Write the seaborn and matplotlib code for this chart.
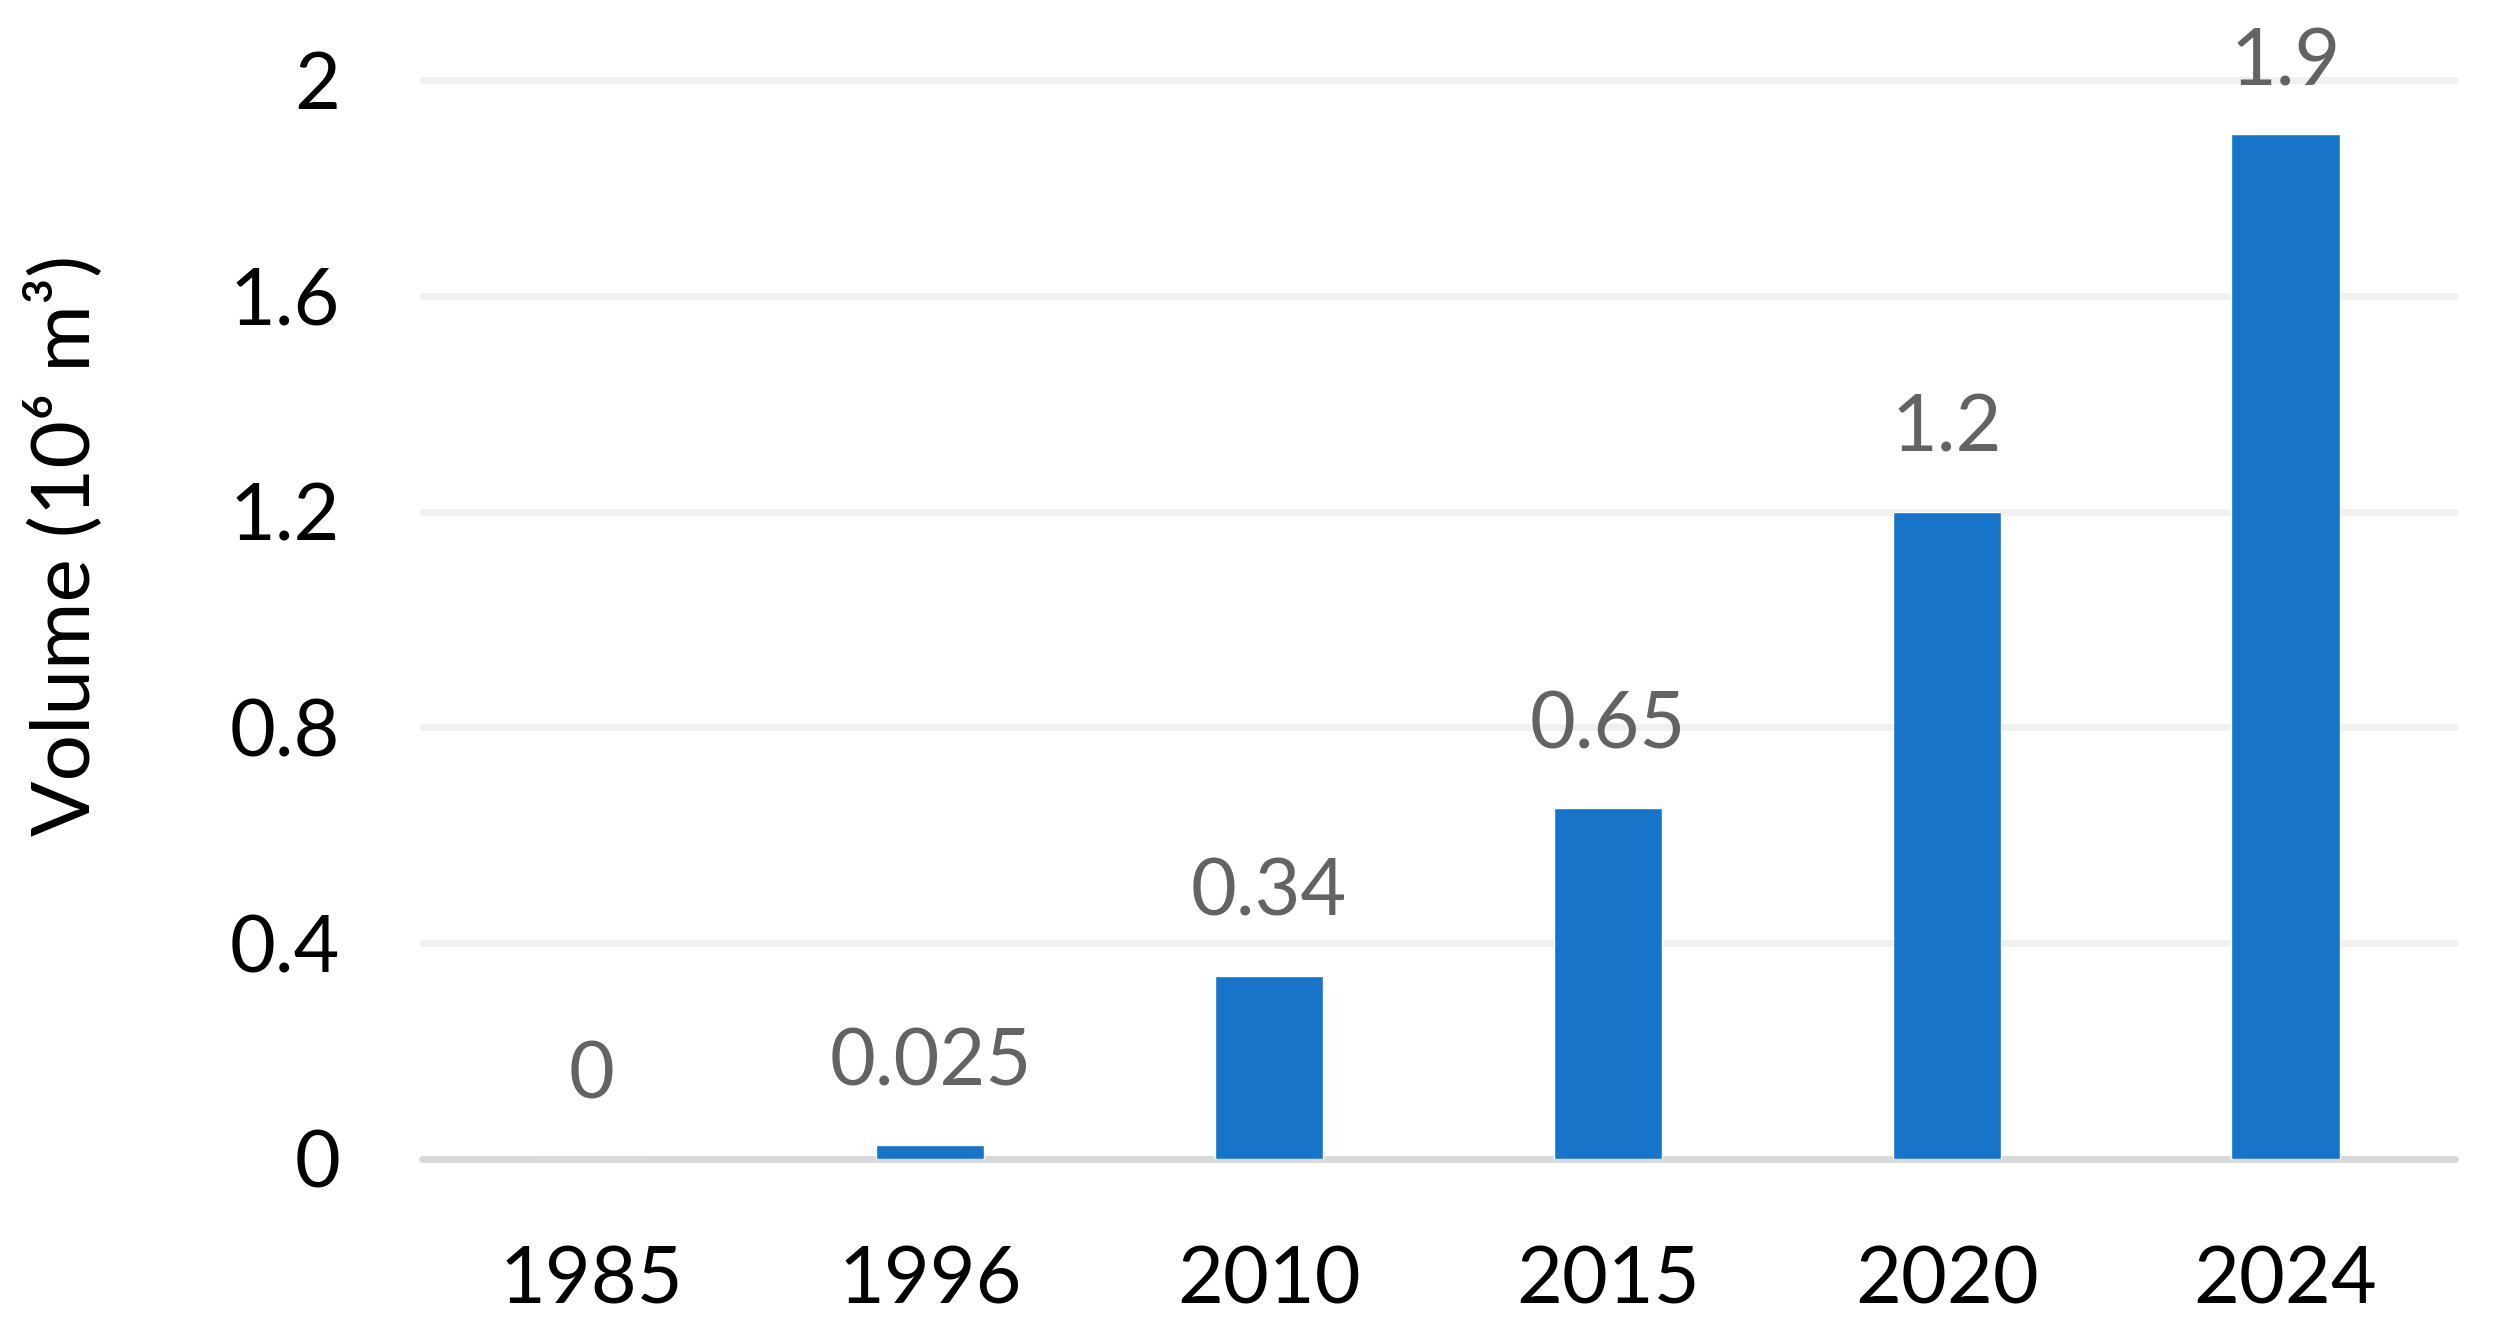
import matplotlib
matplotlib.use("Agg")
import matplotlib.pyplot as plt
import seaborn as sns
import pandas as pd

years = ["1985", "1996", "2010", "2015", "2020", "2024"]
volumes = [0, 0.025, 0.34, 0.65, 1.2, 1.9]
value_labels = ["0", "0.025", "0.34", "0.65", "1.2", "1.9"]
y_ticks = [0, 0.4, 0.8, 1.2, 1.6, 2.0]
y_tick_labels = ["0", "0.4", "0.8", "1.2", "1.6", "2"]
y_label = "Volume (10\u2076 m\u00b3)"

sns.set_theme(style="white")
plt.rcParams['font.family'] = ['Lato', 'DejaVu Sans']

df = pd.DataFrame({"year": years, "volume": volumes})

DPI = 100
fig = plt.figure(figsize=(25, 13.36), dpi=DPI)
ax = fig.add_axes([0.1688, 0.1325, 0.982 - 0.1688, 0.940 - 0.1325])

bar_color = "#1874C8"
sns.barplot(data=df, x="year", y="volume", color=bar_color, width=0.32,
            saturation=1, ax=ax, zorder=3)

ax.set_xlim(-0.5, 5.5)
ax.set_ylim(0, 2.0)
ax.set_yticks(y_ticks)
ax.set_yticklabels(y_tick_labels)

for yv in y_ticks:
    ax.axhline(yv, color="#D9D9D9" if yv == 0 else "#F0F0F0", lw=5, zorder=1, clip_on=False)

for s in ax.spines.values():
    s.set_visible(False)

ax.tick_params(axis="y", length=0, pad=59, labelsize=57, labelcolor="black")
ax.tick_params(axis="x", length=0, pad=62, labelsize=57, labelcolor="black")
ax.set_xlabel("")
ax.set_ylabel("")

fig_h_px = fig.get_figheight() * DPI
px_per_pt = DPI / 72.0
for i, (v, lab) in enumerate(zip(volumes, value_labels)):
    bar_px = ax.transData.transform((i, v))[1]
    center_px = min(bar_px + 89, fig_h_px - 56)
    off_pt = (center_px - bar_px) / px_per_pt
    ax.annotate(lab, xy=(i, v), xytext=(0, off_pt), textcoords="offset points",
                ha="center", va="center_baseline", fontsize=57, color="#636363",
                annotation_clip=False)

fig.text(0.0256, 1 - 545 / 1336, y_label, rotation=90, ha="center", va="center",
         fontsize=59, color="black")

fig.savefig("out.png", dpi=DPI, facecolor="white")
